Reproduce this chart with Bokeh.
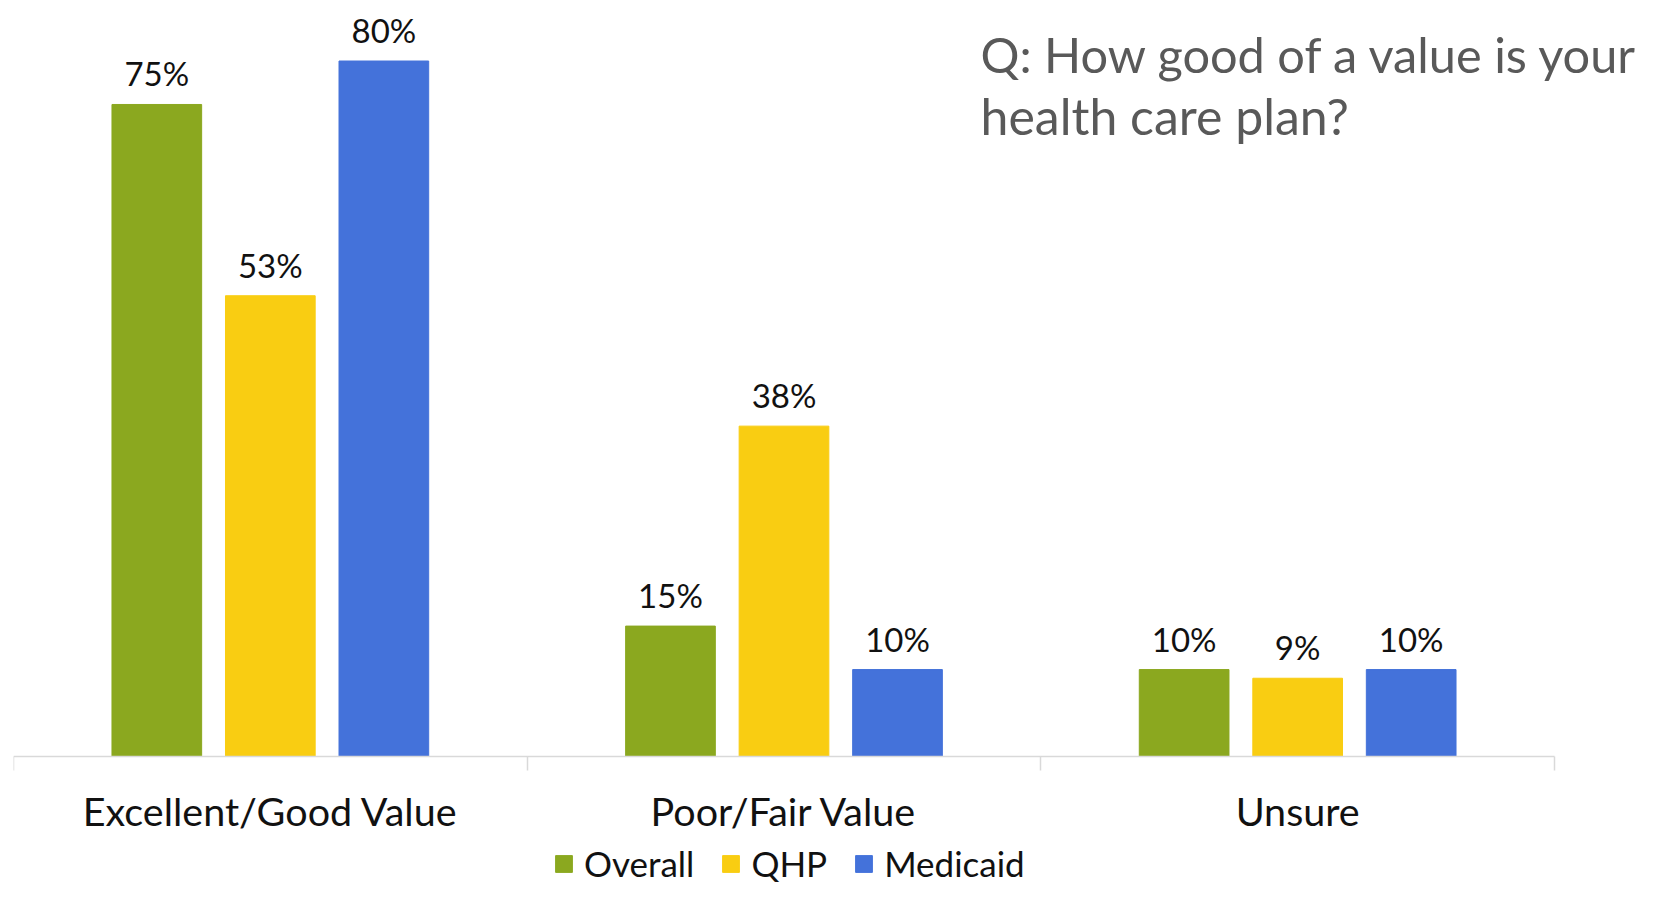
import numpy as np
from bokeh.plotting import figure
from bokeh.models import (ColumnDataSource, FixedTicker, Range1d, Legend,
                          LegendItem, Label)
from bokeh.core.properties import value
from bokeh.embed import file_html
from bokeh.resources import INLINE

categories = ["Excellent/Good Value", "Poor/Fair Value", "Unsure"]
series = ["Overall", "QHP", "Medicaid"]
overall = [75, 15, 10]
qhp = [53, 38, 9]
medicaid = [80, 10, 10]
colors = ["#8BA81F", "#F9CD12", "#4472DA"]
title_lines = ["Q: How good of a value is your", "health care plan?"]

FONT = "Lato"

n = len(categories)
p = figure(width=1639, height=883, x_range=Range1d(0, 3.1655),
           y_range=Range1d(-14.61, 86.96),
           output_backend="svg", toolbar_location=None,
           min_border_left=13, min_border_right=0, min_border_top=0,
           min_border_bottom=0)
p.yaxis.visible = False
p.xgrid.visible = False
p.ygrid.visible = False
p.outline_line_color = None
p.background_fill_color = "white"
p.border_fill_color = "white"

centers = np.arange(n) + 0.5
offsets = [-0.221, 0.0, 0.221]
bar_w = 0.1746

items = []
for name, vals, col, off in zip(series, [overall, qhp, medicaid], colors, offsets):
    src = ColumnDataSource(dict(x=centers + off, y=vals,
                                lab=[f"{v}%" for v in vals]))
    r = p.vbar(x="x", top="y", bottom=0, width=bar_w, source=src, fill_color=col,
               line_color=col)
    p.text(x="x", y="y", text="lab", source=src, text_align="center",
           text_baseline="alphabetic", y_offset=-31,
           text_font=value(FONT), text_font_size="33px", text_color="#111111")
    items.append(LegendItem(label=name, renderers=[r]))

ax = p.xaxis[0]
ax.fixed_location = 0
ax.bounds = (0, n)
ax.ticker = FixedTicker(ticks=list(centers), minor_ticks=list(range(n + 1)))
ax.major_label_overrides = {float(c): lab for c, lab in zip(centers, categories)}
ax.axis_line_color = "#d9d9d9"
ax.axis_line_width = 1.5
ax.major_tick_line_color = None
ax.major_tick_out = 0
ax.major_tick_in = 0
ax.minor_tick_line_color = "#d9d9d9"
ax.minor_tick_line_width = 1.5
ax.minor_tick_out = 14
ax.minor_tick_in = 0
ax.major_label_standoff = 17
ax.major_label_text_font = FONT
ax.major_label_text_font_size = "39.5px"
ax.major_label_text_color = "#111111"

legend = Legend(items=items, orientation="horizontal", location=(540, -1),
                glyph_width=21, glyph_height=21, label_standoff=10, spacing=26,
                padding=0, margin=0, border_line_color=None,
                background_fill_alpha=0,
                label_text_font=FONT, label_text_font_size="35px",
                label_text_color="#111111")
p.add_layout(legend, "center")

for txt, yy, fs in zip(title_lines, [830, 768], ["48.7px", "50px"]):
    p.add_layout(Label(x=967, y=yy, x_units="screen", y_units="screen", text=txt,
                       text_font=FONT, text_font_size=fs,
                       text_color="#595959", text_baseline="alphabetic"))

open("out.html", "w").write(file_html(p, INLINE))
